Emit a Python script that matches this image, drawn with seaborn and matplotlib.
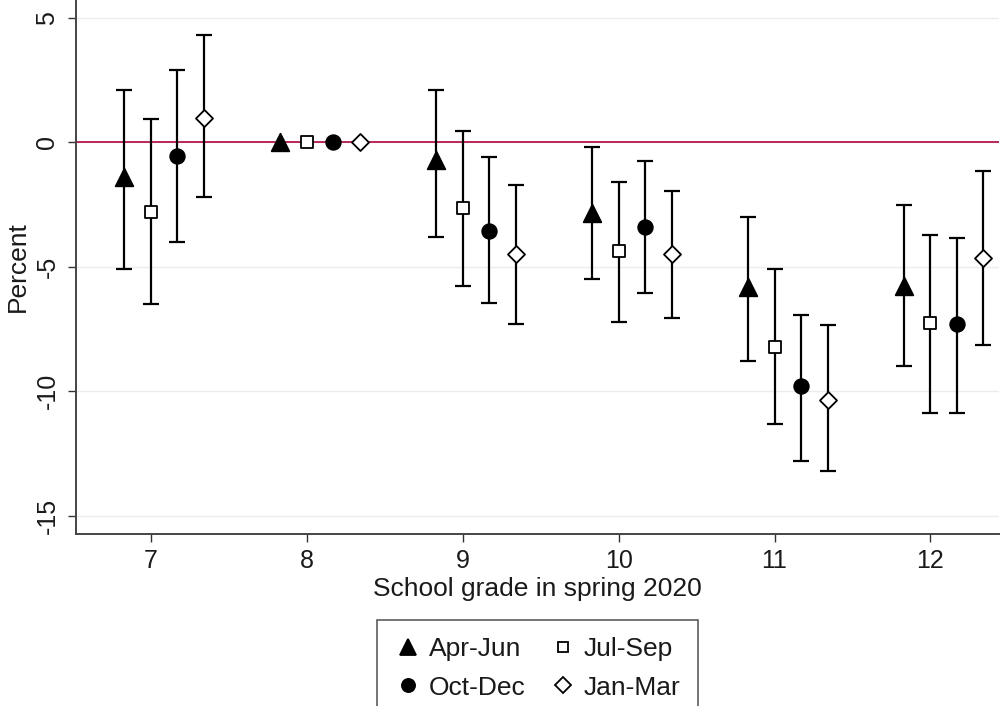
import numpy as np
import pandas as pd
import matplotlib
matplotlib.use("Agg")
import matplotlib.pyplot as plt
import seaborn as sns

# grades and periods
grades = [7, 8, 9, 10, 11, 12]
periods = ["Apr-Jun", "Jul-Sep", "Oct-Dec", "Jan-Mar"]

# point estimates per period (grade 8 = reference)
est_apr = [-1.4, 0.0, -0.7, -2.85, -5.8, -5.75]
est_jul = [-2.8, 0.0, -2.65, -4.35, -8.2, -7.25]
est_oct = [-0.55, 0.0, -3.55, -3.4, -9.8, -7.3]
est_jan = [1.0, 0.0, -4.5, -4.5, -10.35, -4.65]

# confidence bounds
lo_apr = [-5.1, np.nan, -3.8, -5.5, -8.8, -9.0]
hi_apr = [2.1, np.nan, 2.1, -0.2, -3.0, -2.5]
lo_jul = [-6.5, np.nan, -5.75, -7.2, -11.3, -10.85]
hi_jul = [0.95, np.nan, 0.45, -1.6, -5.1, -3.7]
lo_oct = [-4.0, np.nan, -6.45, -6.05, -12.8, -10.85]
hi_oct = [2.9, np.nan, -0.6, -0.75, -6.95, -3.85]
lo_jan = [-2.2, np.nan, -7.3, -7.05, -13.2, -8.15]
hi_jan = [4.3, np.nan, -1.7, -1.95, -7.35, -1.15]

offsets = {"Apr-Jun": -0.17, "Jul-Sep": 0.0, "Oct-Dec": 0.17, "Jan-Mar": 0.34}

rows = []
for p, e, lo, hi in zip(periods,
                        [est_apr, est_jul, est_oct, est_jan],
                        [lo_apr, lo_jul, lo_oct, lo_jan],
                        [hi_apr, hi_jul, hi_oct, hi_jan]):
    for g, ei, l, h in zip(grades, e, lo, hi):
        rows.append({"period": p, "grade": g, "x": g + offsets[p],
                     "est": ei, "lo": l, "hi": h})
df = pd.DataFrame(rows)

sns.set_style("white")
plt.rcParams["font.family"] = ["Liberation Sans", "DejaVu Sans"]

fig = plt.figure(figsize=(10.01, 7.06), dpi=100)
ax = fig.add_axes([0.076, 0.244, 0.922, 0.756])

ax.axhline(0, color="#b5194a", lw=1.3, zorder=1)

# error bars
ci = df.dropna()
ax.errorbar(ci["x"], ci["est"],
            yerr=[ci["est"] - ci["lo"], ci["hi"] - ci["est"]],
            fmt="none", ecolor="black", elinewidth=1.6, capsize=6,
            capthick=1.6, zorder=2)

style = {
    "Apr-Jun": dict(marker="^", s=160, facecolor="black"),
    "Jul-Sep": dict(marker="s", s=75, facecolor="white"),
    "Oct-Dec": dict(marker="o", s=110, facecolor="black"),
    "Jan-Mar": dict(marker="D", s=75, facecolor="white"),
}
handles = {}
for p in periods:
    st = style[p]
    sub = df[df["period"] == p]
    sns.scatterplot(data=sub, x="x", y="est", marker=st["marker"], s=st["s"],
                    color=st["facecolor"], edgecolor="black", linewidth=1.3,
                    zorder=3, ax=ax, legend=False)
    handles[p] = plt.Line2D([], [], ls="none", marker=st["marker"],
                            markersize=np.sqrt(st["s"]) * 0.9,
                            markerfacecolor=st["facecolor"],
                            markeredgecolor="black", markeredgewidth=1.3)

ax.set_xlim(6.52, 12.44)
ax.set_ylim(-15.72, 5.72)
ax.set_xticks(grades)
ax.set_yticks([-15, -10, -5, 0, 5])
ax.set_yticklabels(["-15", "-10", "-5", "0", "5"], rotation=90, va="center")
ax.tick_params(axis="both", labelsize=18, length=6, width=1, color="#333333",
               direction="out", left=True, bottom=True, labelcolor="#1a1a1a")
ax.tick_params(axis="x", pad=5)
ax.tick_params(axis="y", pad=6)
ax.grid(axis="y", color="#ececec", lw=1)
ax.set_axisbelow(True)
for s in ["top", "right"]:
    ax.spines[s].set_visible(False)
for s in ["left", "bottom"]:
    ax.spines[s].set_color("#444444")
    ax.spines[s].set_linewidth(1.4)

ax.set_xlabel("School grade in spring 2020", fontsize=19, labelpad=3,
              color="#1a1a1a")
ax.set_ylabel("Percent", fontsize=19, labelpad=4, color="#1a1a1a")

order = ["Apr-Jun", "Oct-Dec", "Jul-Sep", "Jan-Mar"]
leg = fig.legend([handles[p] for p in order], order, ncol=2,
                 loc="upper center", bbox_to_anchor=(0.537, 0.122),
                 borderaxespad=0, fontsize=19, frameon=True, fancybox=False,
                 edgecolor="#333333", handletextpad=0.3, columnspacing=0.9,
                 handlelength=1.0, borderpad=0.65, labelspacing=0.55)
leg.get_frame().set_linewidth(1.2)
for t in leg.get_texts():
    t.set_color("#1a1a1a")

fig.savefig("out.png", dpi=100)
